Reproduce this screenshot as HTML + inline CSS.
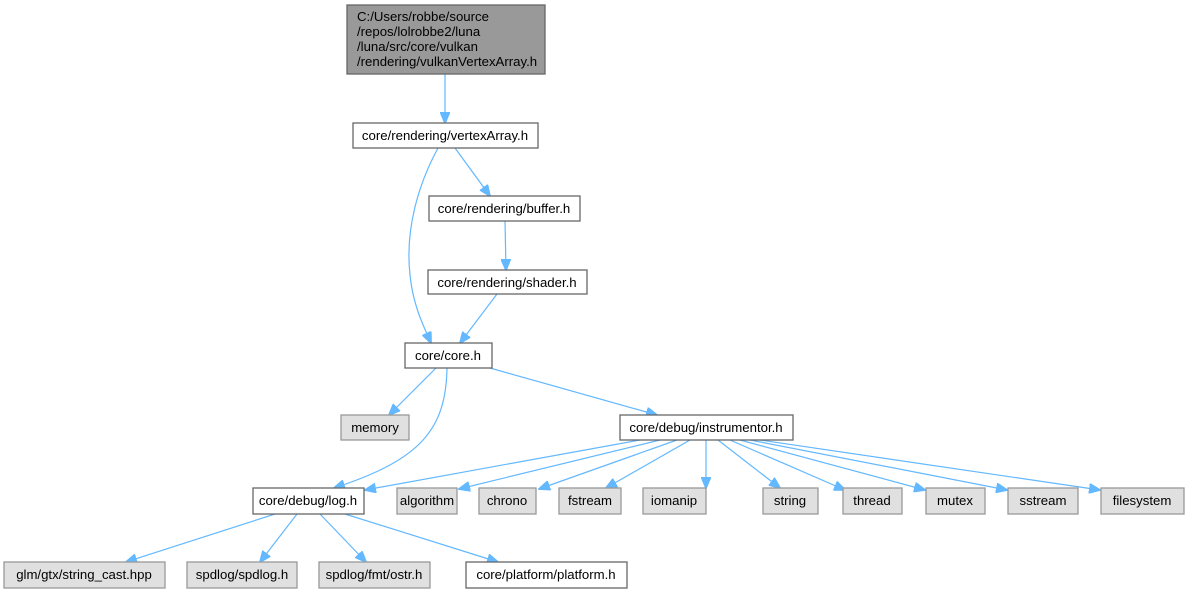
<!DOCTYPE html>
<html><head><meta charset="utf-8"><style>
html,body{margin:0;padding:0;background:#fff;}
svg{display:block;}
text{font-family:"Liberation Sans",Arial,sans-serif;font-size:13.2px;fill:#000;}
.w{fill:#fff;stroke:#666;stroke-width:1.3;}
.g{fill:#e0e0e0;stroke:#999;stroke-width:1.3;}
.d{fill:#999;stroke:#666;stroke-width:1.3;}
.e{fill:none;stroke:#63b8ff;stroke-width:1.2;}
</style></head><body>
<svg width="1189" height="593" viewBox="0 0 1189 593" xmlns="http://www.w3.org/2000/svg">
<defs><marker id="a" markerWidth="12" markerHeight="10" refX="11" refY="5" orient="auto" markerUnits="userSpaceOnUse"><path d="M0,0 L12,5 L0,10 z" fill="#63b8ff" stroke="#63b8ff"/></marker></defs>
<g class="e" marker-end="url(#a)">
<path d="M445,74 L445,123"/>
<path d="M438,148 C418,185 405,230 410,275 C413,305 423,325 431,343"/>
<path d="M455,148 L490,196"/>
<path d="M505,221 L506,270"/>
<path d="M497,294 L460,343"/>
<path d="M436,368 L389,415"/>
<path d="M447,368 C446,430 420,460 334,488"/>
<path d="M490,368 L657,415"/>
<path d="M640,440 L365,490"/>
<path d="M660,440 L459,489"/>
<path d="M677,440 L539,489"/>
<path d="M690,440 L606,488"/>
<path d="M706,440 L706,488"/>
<path d="M718,440 L780,488"/>
<path d="M730,440 L845,490"/>
<path d="M740,440 L925,490"/>
<path d="M750,440 L1007,490"/>
<path d="M760,440 L1100,490"/>
<path d="M275,514 L126,562"/>
<path d="M297,514 L260,562"/>
<path d="M320,514 L366,562"/>
<path d="M345,514 L498,562"/>
</g>
<rect class="d" x="347" y="5" width="198" height="69"/>
<text x="357" y="21">C:/Users/robbe/source</text>
<text x="357" y="36">/repos/lolrobbe2/luna</text>
<text x="357" y="51">/luna/src/core/vulkan</text>
<text x="357" y="66">/rendering/vulkanVertexArray.h</text>
<rect class="w" x="353" y="123" width="185" height="25"/><text x="445" y="140" text-anchor="middle">core/rendering/vertexArray.h</text>
<rect class="w" x="429" y="196" width="151" height="25"/><text x="504" y="213" text-anchor="middle">core/rendering/buffer.h</text>
<rect class="w" x="428" y="270" width="159" height="24"/><text x="507" y="287" text-anchor="middle">core/rendering/shader.h</text>
<rect class="w" x="405" y="343" width="87" height="25"/><text x="448" y="360" text-anchor="middle">core/core.h</text>
<rect class="g" x="341" y="415" width="68" height="25"/><text x="375" y="432" text-anchor="middle">memory</text>
<rect class="w" x="620" y="415" width="173" height="25"/><text x="706" y="432" text-anchor="middle">core/debug/instrumentor.h</text>
<rect class="w" x="253" y="488" width="111" height="26"/><text x="308" y="505" text-anchor="middle">core/debug/log.h</text>
<rect class="g" x="397" y="488" width="60" height="26"/><text x="427" y="505" text-anchor="middle">algorithm</text>
<rect class="g" x="479" y="488" width="57" height="26"/><text x="507" y="505" text-anchor="middle">chrono</text>
<rect class="g" x="559" y="488" width="62" height="26"/><text x="590" y="505" text-anchor="middle">fstream</text>
<rect class="g" x="643" y="488" width="63" height="26"/><text x="674" y="505" text-anchor="middle">iomanip</text>
<rect class="g" x="763" y="488" width="55" height="26"/><text x="790" y="505" text-anchor="middle">string</text>
<rect class="g" x="843" y="488" width="59" height="26"/><text x="872" y="505" text-anchor="middle">thread</text>
<rect class="g" x="926" y="488" width="59" height="26"/><text x="955" y="505" text-anchor="middle">mutex</text>
<rect class="g" x="1008" y="488" width="70" height="26"/><text x="1043" y="505" text-anchor="middle">sstream</text>
<rect class="g" x="1101" y="488" width="83" height="26"/><text x="1142" y="505" text-anchor="middle">filesystem</text>
<rect class="g" x="4" y="562" width="161" height="26"/><text x="84" y="579" text-anchor="middle">glm/gtx/string_cast.hpp</text>
<rect class="g" x="187" y="562" width="110" height="26"/><text x="242" y="579" text-anchor="middle">spdlog/spdlog.h</text>
<rect class="g" x="319" y="562" width="111" height="26"/><text x="374" y="579" text-anchor="middle">spdlog/fmt/ostr.h</text>
<rect class="w" x="466" y="562" width="161" height="26"/><text x="546" y="579" text-anchor="middle">core/platform/platform.h</text>
</svg>
</body></html>
